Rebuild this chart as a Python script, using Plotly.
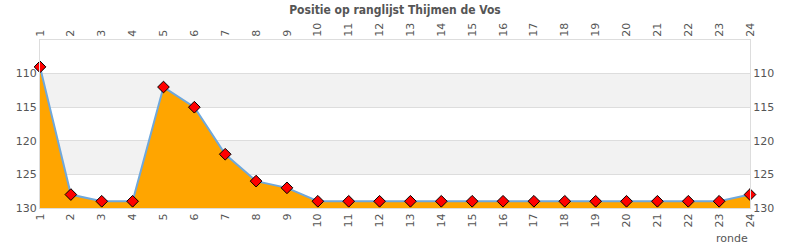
import plotly.graph_objects as go

rondes = list(range(1, 25))
positie = [109, 128, 129, 129, 112, 115, 122, 126, 127, 129, 129, 129, 129, 129,
           129, 129, 129, 129, 129, 129, 129, 129, 129, 128]
y_ticks = [110, 115, 120, 125, 130]
baseline = 130
title = "Positie op ranglijst Thijmen de Vos"

fig = go.Figure()
fig.add_trace(go.Scatter(
    x=rondes, y=[baseline] * len(rondes), mode="lines",
    line=dict(width=0, color="rgba(0,0,0,0)"),
    showlegend=False, hoverinfo="skip"))
fig.add_trace(go.Scatter(
    x=rondes, y=positie, mode="lines+markers", fill="tonexty",
    fillcolor="#ffa500",
    line=dict(color="#6fa8dc", width=2),
    marker=dict(symbol="diamond", size=9, color="#ff0000",
                line=dict(color="#000000", width=1)),
    cliponaxis=False, showlegend=False, hoverinfo="x+y"))
fig.add_trace(go.Scatter(x=rondes, y=positie, xaxis="x2", yaxis="y2",
                         mode="markers", marker=dict(opacity=0),
                         showlegend=False, hoverinfo="skip"))

# alternating bands
for lo, hi in [(110, 115), (120, 125)]:
    fig.add_shape(type="rect", xref="paper", yref="y", x0=0, x1=1, y0=lo, y1=hi,
                  fillcolor="#f2f2f2", line=dict(width=0), layer="below")

tickfont = dict(family="DejaVu Sans", size=11, color="#555555")
common_x = dict(range=[1, 24], tickmode="array", tickvals=rondes,
                ticktext=[str(r) for r in rondes], tickangle=-90,
                tickfont=tickfont, showgrid=False, zeroline=False,
                showline=True, linecolor="#dddddd", ticks="")
common_y = dict(range=[130, 105], tickmode="array", tickvals=y_ticks,
                tickfont=tickfont, zeroline=False, ticks="",
                showline=True, linecolor="#dddddd")

fig.update_layout(
    width=790, height=250,
    margin=dict(l=40, r=40, t=40, b=42),
    paper_bgcolor="white", plot_bgcolor="white",
    xaxis=dict(**common_x, side="bottom"),
    xaxis2=dict(**common_x, side="top", overlaying="x"),
    yaxis=dict(**common_y, side="left", showgrid=True, gridcolor="#dddddd"),
    yaxis2=dict(**common_y, side="right", overlaying="y", showgrid=False),
    title=dict(text=title, x=0.5, xanchor="center", y=0.96, yanchor="middle",
               font=dict(family="DejaVu Sans Condensed", size=12, color="#555555",
                         weight="bold")),
    annotations=[dict(text="ronde", xref="paper", yref="paper", x=1, y=-0.179,
                      xanchor="right", yanchor="middle", showarrow=False,
                      font=dict(family="DejaVu Sans", size=11, color="#555555"))],
)

fig.write_html("out.html")
